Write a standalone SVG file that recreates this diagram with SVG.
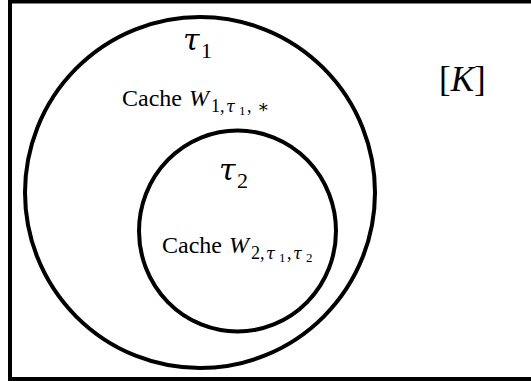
<svg xmlns="http://www.w3.org/2000/svg" width="531" height="381" viewBox="0 0 531 381">
<style>
.b{fill:none;stroke:#000;stroke-width:4}
text{font-family:"Liberation Serif","DejaVu Serif",serif;fill:#000}
.i{font-style:italic}
.l{font-size:24px}
.s{font-size:18px}
.ss{font-size:13px}
.t{font-family:"DejaVu Serif",serif;font-size:30px;font-style:italic}
.st{font-family:"DejaVu Serif",serif;font-size:16px;font-style:italic}
.n{font-size:22px}
</style>
<rect x="0" y="0" width="531" height="381" fill="#fff"/>
<g id="universe">
<rect class="b" x="10" y="1.5" width="530" height="377.5"/>
<text x="439" y="91" font-size="35">[<tspan class="i">K</tspan>]</text>
</g>
<g id="tau1">
<ellipse class="b" cx="200" cy="192.5" rx="175" ry="175.5"/>
<text y="50" class="t" x="183">τ</text>
<text y="58" class="n" x="201">1</text>
<text y="106" class="l" x="122">Cache</text>
<text y="106" class="l i" x="189">W</text>
<text y="112" class="s" x="211">1</text>
<text y="112" class="s" x="220">,</text>
<text y="112" class="st" x="226">τ</text>
<text y="115" class="ss" x="239">1</text>
<text y="112" class="s" x="247">,</text>
<text y="113" class="s" x="257">∗</text>
</g>
<g id="tau2">
<ellipse class="b" cx="237.5" cy="231" rx="98.5" ry="100.5"/>
<text y="180" class="t" x="219">τ</text>
<text y="188" class="n" x="237">2</text>
<text y="253" class="l" x="162">Cache</text>
<text y="253" class="l i" x="229">W</text>
<text y="259" class="s" x="251">2</text>
<text y="259" class="s" x="260">,</text>
<text y="259" class="st" x="266">τ</text>
<text y="262" class="ss" x="279">1</text>
<text y="259" class="s" x="287">,</text>
<text y="259" class="st" x="293">τ</text>
<text y="262" class="ss" x="306">2</text>
</g>
<g id="connectors"/>
</svg>
